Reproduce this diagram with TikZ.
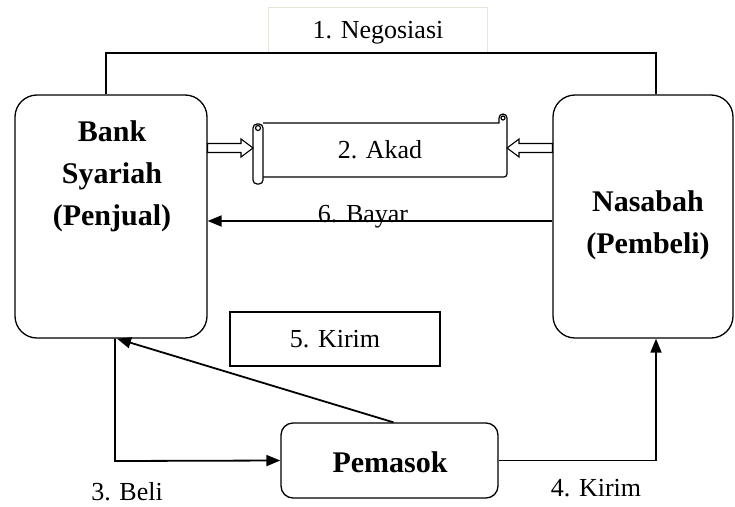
\documentclass[tikz,border=0pt]{standalone}
\usepackage{fontspec}
\setmainfont{Liberation Serif}
\usetikzlibrary{arrows.meta,calc}
\definecolor{faintline}{RGB}{232,228,216}
\tikzset{
  bigbox/.style={draw=black, line width=1.3pt, rounded corners=22pt, fill=white},
  smallbox/.style={draw=black, line width=1.3pt, rounded corners=12pt, fill=white},
  plainbox/.style={draw=black, line width=1.1pt, fill=white},
  boldtxt/.style={font=\fontsize{30}{42}\selectfont\bfseries, align=center, inner sep=0pt},
  regtxt/.style={font=\fontsize{26}{30}\selectfont, inner sep=0pt},
  flow/.style={line width=1.8pt, -{Triangle[length=14pt,width=11pt]}},
  conn/.style={line width=1.6pt},
  blockarrow/.style={draw=black, line width=1.1pt, fill=white, line join=miter},
}
\begin{document}
\begin{tikzpicture}[x=1pt,y=-1pt]
\useasboundingbox (0,0) rectangle (735,506);

% main boxes
\node[bigbox, minimum width=192pt, minimum height=243pt, inner sep=0pt] (bank) at (111,216.5) {};
\node[bigbox, minimum width=180pt, minimum height=243pt, inner sep=0pt] (nasabah) at (643,216.5) {};
\node[smallbox, minimum width=217pt, minimum height=75pt, inner sep=0pt] (pemasok) at (389.5,460.5) {};
\node[plainbox, minimum width=210pt, minimum height=54pt, inner sep=0pt] (kirimbox) at (335,339) {};

% texts in boxes
\node[boldtxt] (banktxt) at (112,176) {Bank\\Syariah\\(Penjual)};
\node[boldtxt] (nasabahtxt) at (648,225) {Nasabah\\(Pembeli)};
\node[boldtxt] (pemasoktxt) at (390,462) {Pemasok};
\node[regtxt] (kirim5) at (335,339) {5. Kirim};

% negosiasi
\node[draw=faintline, line width=1pt, fill=white, minimum width=219pt, minimum height=46pt, inner sep=0pt] (negbox) at (377.5,30) {};
\node[regtxt] (negtxt) at (378,33) {1. Negosiasi};
\coordinate (nl) at (106,53);
\coordinate (nr) at (656,53);
\draw[conn] (nl |- bank.north) -- (nl) -- (nr) -- (nr |- nasabah.north);

% scroll (akad)
\coordinate (scrollL) at (253,148);
\coordinate (scrollR) at (507,148);
\begin{scope}[line width=1.2pt]
  \draw[fill=white] (263,123) -- (499,123) -- (499,118) arc[start angle=180, end angle=0, radius=4pt]
        -- (507,174) arc[start angle=0, end angle=-90, radius=3pt] -- (263,177);
  \draw (503,118) circle[radius=2pt];
  \draw[fill=white, rounded corners=4pt] (253,124) rectangle (263,184);
  \draw (258,128) circle[radius=2.5pt];
\end{scope}
\node[regtxt] (akad) at (380,150) {2. Akad};

% block arrows
\coordinate (aL) at (bank.east |- scrollL);
\coordinate (aR) at (nasabah.west |- scrollR);
\draw[blockarrow] ($(aL)+(0,-4.5)$) -- ($(scrollL)+(-12,-4.5)$) -- ($(scrollL)+(-12,-9)$) -- (scrollL)
   -- ($(scrollL)+(-12,9)$) -- ($(scrollL)+(-12,4.5)$) -- ($(aL)+(0,4.5)$) -- cycle;
\draw[blockarrow] ($(aR)+(0,-4.5)$) -- ($(scrollR)+(12,-4.5)$) -- ($(scrollR)+(12,-9)$) -- (scrollR)
   -- ($(scrollR)+(12,9)$) -- ($(scrollR)+(12,4.5)$) -- ($(aR)+(0,4.5)$) -- cycle;

% 6. Bayar
\coordinate (bay) at (0,221);
\draw[flow] (nasabah.west |- bay) -- (bank.east |- bay);
\node[regtxt, anchor=base] (bayar) at (363,222) {6. Bayar};

% 3. Beli
\coordinate (bl) at (115,461);
\draw[flow] (bl |- bank.south) -- (bl) -- (pemasok.west);
\node[regtxt] (beli) at (127,492) {3. Beli};

% 4. Kirim
\coordinate (kr) at (656,460.5);
\draw[flow] (pemasok.east) -- (kr) -- (kr |- nasabah.south);
\node[regtxt] (kirim4) at (596,488) {4. Kirim};

% 5. Kirim diagonal
\coordinate (dg) at (117,0);
\draw[flow] ($(pemasok.north)+(4,0)$) -- (dg |- bank.south);
\end{tikzpicture}
\end{document}
